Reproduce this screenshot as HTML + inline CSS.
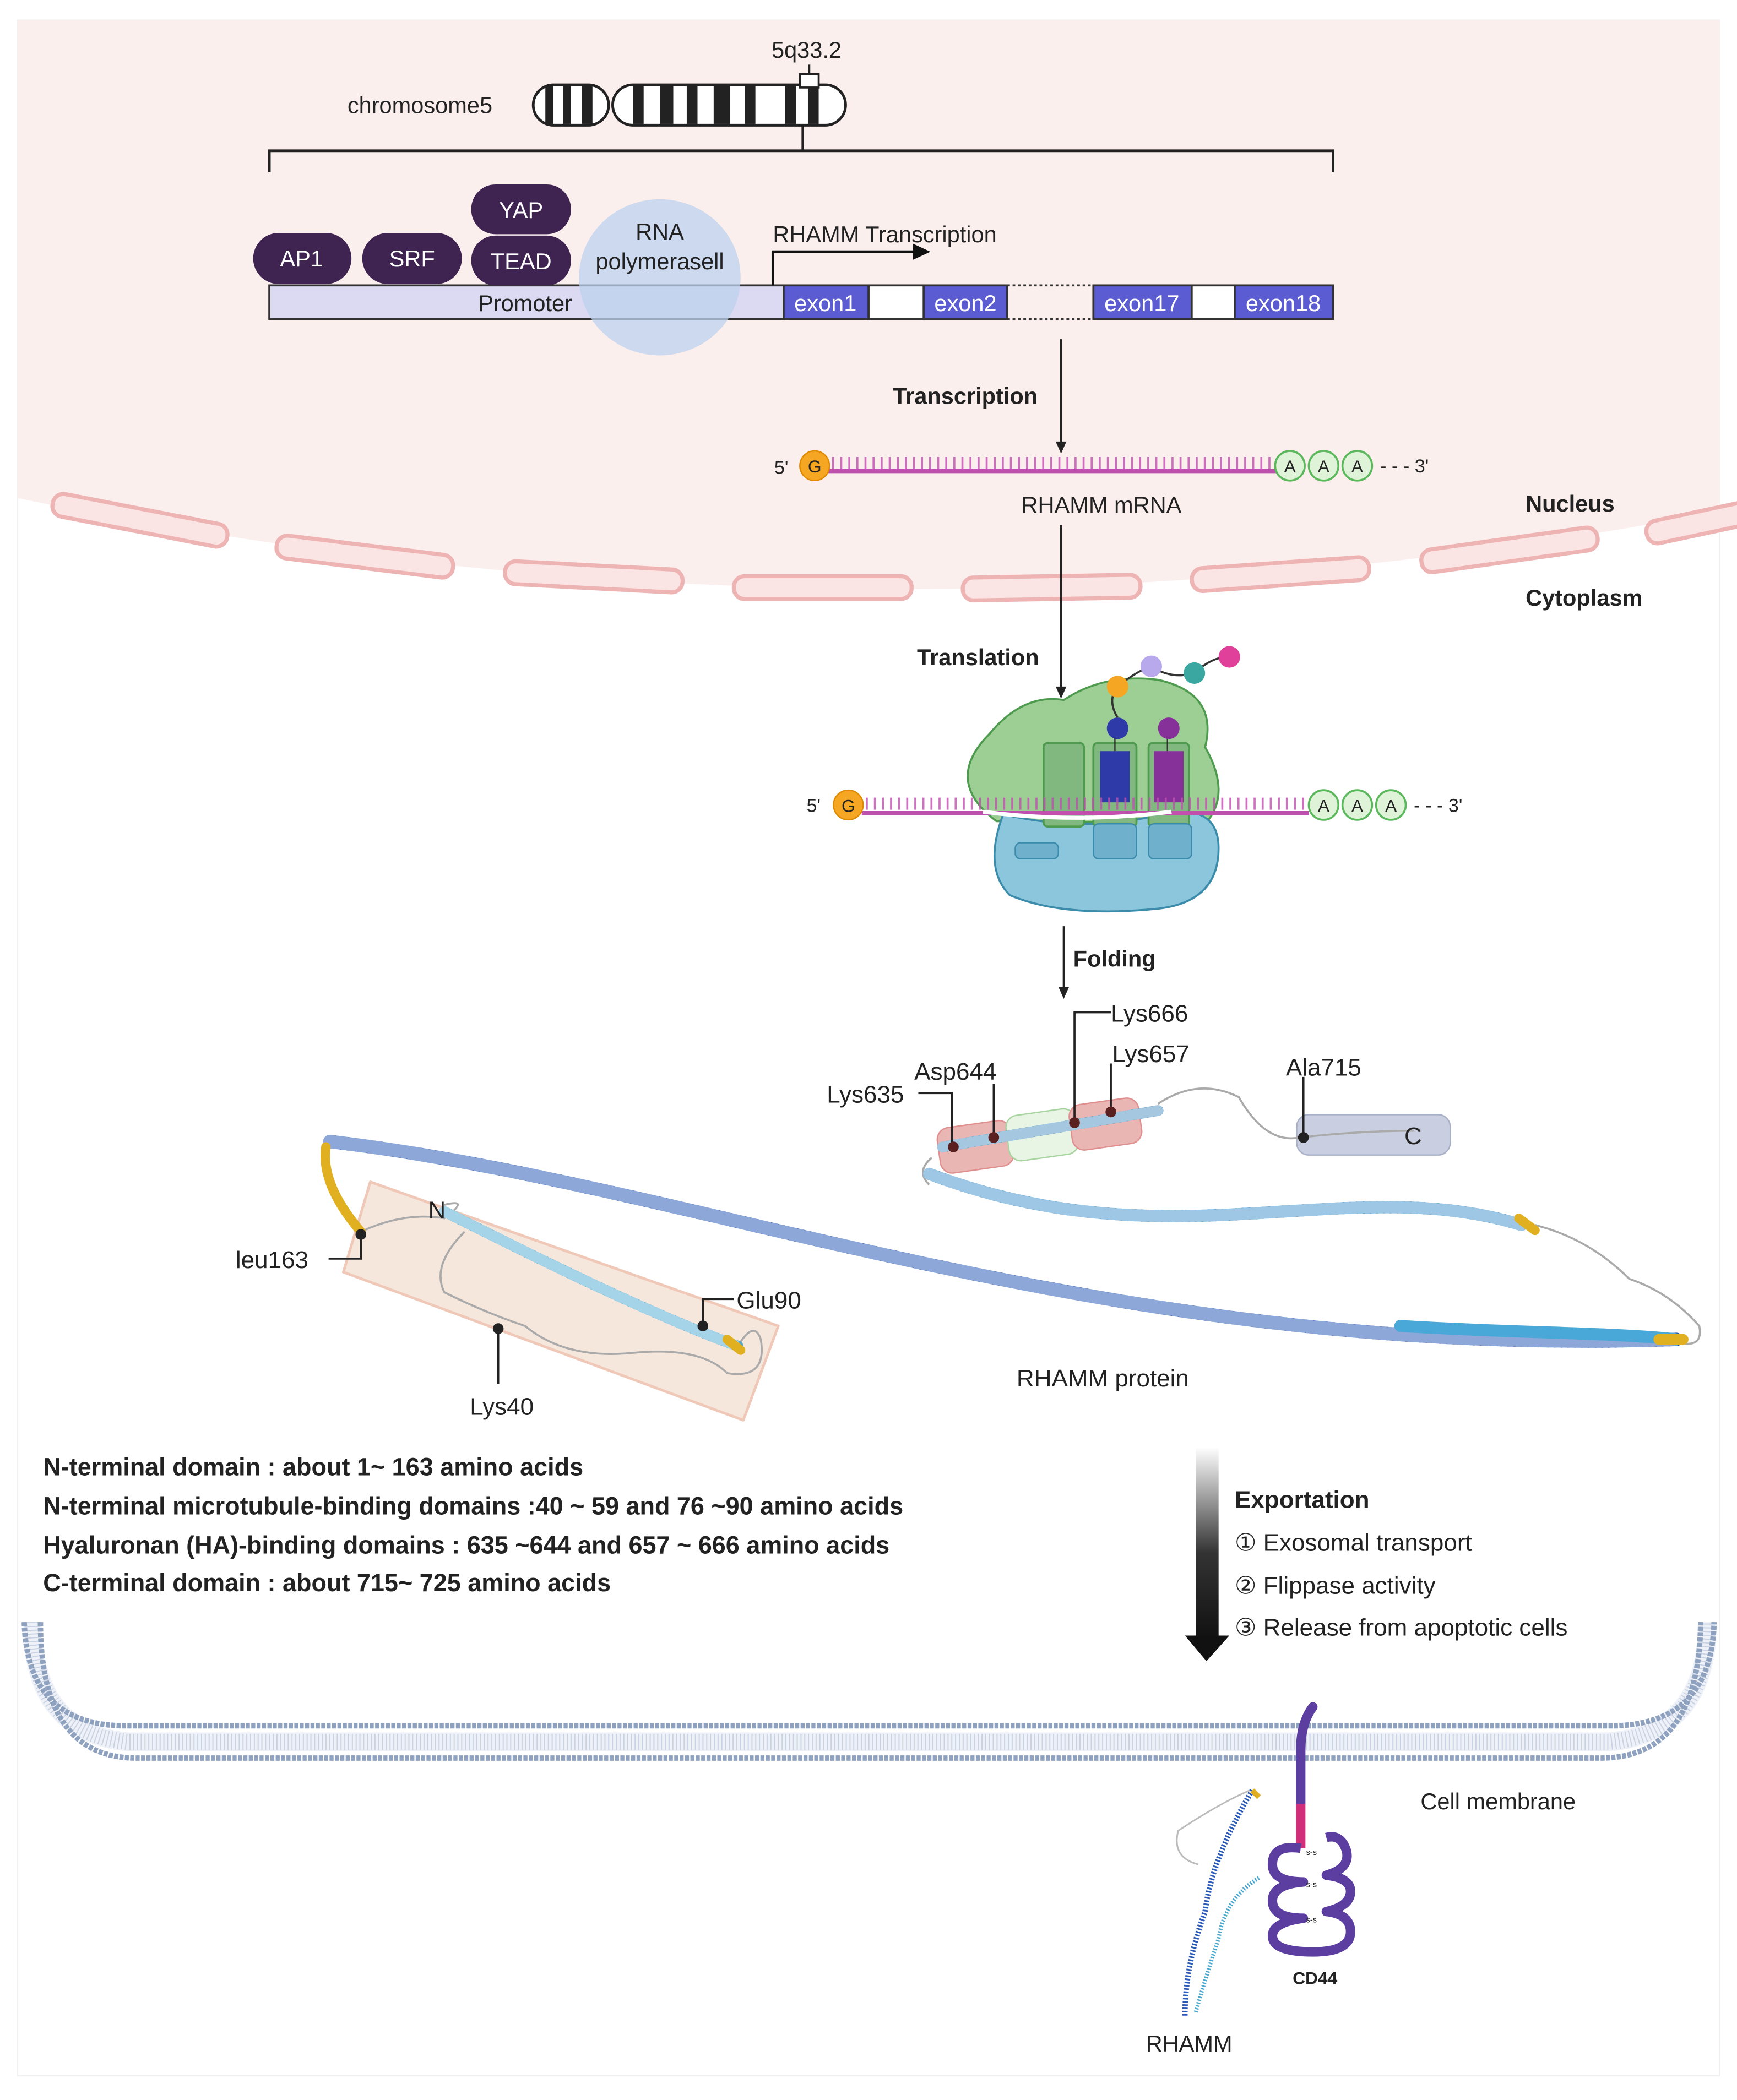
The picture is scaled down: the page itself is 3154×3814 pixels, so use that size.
<!DOCTYPE html>
<html><head><meta charset="utf-8"><style>
html,body{margin:0;padding:0;background:#fff;}
svg{display:block;}
text{font-family:"Liberation Sans",sans-serif;fill:#222;}
.b{font-weight:bold;}
</style></head><body>
<svg width="3154" height="3814" viewBox="0 0 1290 1560" xmlns="http://www.w3.org/2000/svg">
<defs>
<linearGradient id="eg" x1="0" y1="0" x2="0" y2="1"><stop offset="0" stop-color="#fff"/><stop offset="0.55" stop-color="#333"/><stop offset="1" stop-color="#111"/></linearGradient>
</defs>
<rect x="13" y="15" width="1264" height="1527" fill="#fff" stroke="#f0f0f0"/>
<path d="M13 15 H1277 V380 Q645 500 13 370 Z" fill="#fbefee"/>
<g fill="#fbe4e4" stroke="#eeb4b4" stroke-width="3">
<rect x="38" y="378" width="132" height="17" rx="8" transform="rotate(11 104 386)"/>
<rect x="205" y="405" width="132" height="17" rx="8" transform="rotate(7 271 413)"/>
<rect x="375" y="420" width="132" height="17" rx="8" transform="rotate(3 441 428)"/>
<rect x="545" y="428" width="132" height="17" rx="8"/>
<rect x="715" y="428" width="132" height="17" rx="8" transform="rotate(-1 781 436)"/>
<rect x="885" y="418" width="132" height="17" rx="8" transform="rotate(-4 951 426)"/>
<rect x="1055" y="400" width="132" height="17" rx="8" transform="rotate(-8 1121 408)"/>
<rect x="1222" y="380" width="80" height="17" rx="8" transform="rotate(-12 1262 388)"/>
</g>
<text x="258" y="84" font-size="17">chromosome5</text>
<text x="573" y="43" font-size="17">5q33.2</text>
<g stroke="#222" stroke-width="2">
<rect x="396" y="63" width="56" height="30" rx="15" fill="#fff"/>
<rect x="455" y="63" width="173" height="30" rx="15" fill="#fff"/>
</g>
<g fill="#222">
<rect x="405" y="64" width="6" height="28"/><rect x="418" y="64" width="6" height="28"/><rect x="432" y="64" width="8" height="28"/>
<rect x="470" y="64" width="8" height="28"/><rect x="490" y="64" width="10" height="28"/><rect x="510" y="64" width="8" height="28"/><rect x="530" y="64" width="12" height="28"/><rect x="553" y="64" width="8" height="28"/><rect x="583" y="64" width="8" height="28"/><rect x="600" y="64" width="8" height="28"/>
</g>
<rect x="594" y="55" width="14" height="10" fill="#fff" stroke="#222" stroke-width="1.5"/>
<line x1="601" y1="48" x2="601" y2="55" stroke="#222" stroke-width="1.5"/>
<line x1="596" y1="93" x2="596" y2="112" stroke="#222" stroke-width="1.5"/>
<path d="M200 128 V112 H990 V128" fill="none" stroke="#222" stroke-width="2"/>
<rect x="200" y="212" width="382" height="25" fill="#dcdaf2" stroke="#333" stroke-width="1.5"/>
<ellipse cx="490" cy="206" rx="60" ry="58" fill="#bcd2ee" opacity="0.75"/>
<text x="390" y="231" font-size="17" text-anchor="middle">Promoter</text>
<text x="490" y="178" font-size="17" text-anchor="middle">RNA</text>
<text x="490" y="200" font-size="17" text-anchor="middle">polymerasell</text>
<g fill="#fff" stroke="#333" stroke-width="1.5">
<rect x="645" y="212" width="41" height="25"/><rect x="885" y="212" width="32" height="25"/>
</g>
<path d="M748 212 H812 M748 237 H812" stroke="#333" stroke-width="1.5" stroke-dasharray="2 2"/>
<g fill="#5c5cd2" stroke="#333" stroke-width="1.5">
<rect x="582" y="212" width="63" height="25"/><rect x="686" y="212" width="62" height="25"/><rect x="812" y="212" width="73" height="25"/><rect x="917" y="212" width="73" height="25"/>
</g>
<g font-size="17" text-anchor="middle">
<text x="613" y="231" style="fill:#fff">exon1</text><text x="717" y="231" style="fill:#fff">exon2</text><text x="848" y="231" style="fill:#fff">exon17</text><text x="953" y="231" style="fill:#fff">exon18</text>
</g>
<g fill="#3f2350">
<rect x="188" y="173" width="73" height="38" rx="19"/><rect x="269" y="173" width="74" height="38" rx="19"/>
<rect x="350" y="137" width="74" height="37" rx="18"/><rect x="350" y="175" width="74" height="37" rx="18"/>
</g>
<g font-size="17" text-anchor="middle">
<text x="224" y="198" style="fill:#fff">AP1</text><text x="306" y="198" style="fill:#fff">SRF</text>
<text x="387" y="162" style="fill:#fff">YAP</text><text x="387" y="200" style="fill:#fff">TEAD</text>
</g>
<path d="M574 212 V187 H680" fill="none" stroke="#111" stroke-width="2"/>
<path d="M678 181 L691 187 L678 193 Z" fill="#111"/>
<text x="574" y="180" font-size="17">RHAMM Transcription</text>
<line x1="788" y1="252" x2="788" y2="330" stroke="#222" stroke-width="1.5"/>
<path d="M784 328 L788 337 L792 328 Z" fill="#222"/>
<text x="663" y="300" font-size="17" class="b">Transcription</text>
<text x="575" y="352" font-size="14">5'</text>
<line x1="615" y1="350" x2="948" y2="350" stroke="#c050b0" stroke-width="3"/>
<line x1="618" y1="344" x2="946" y2="344" stroke="#c050b0" stroke-width="9" stroke-dasharray="1.5 4.5" opacity="0.8"/>
<circle cx="605" cy="346" r="11" fill="#f5a623" stroke="#e08a00"/>
<text x="605" y="351" font-size="13" text-anchor="middle">G</text>
<g fill="#dff3d8" stroke="#5cb85c" stroke-width="1.5"><circle cx="958" cy="346" r="11"/><circle cx="983" cy="346" r="11"/><circle cx="1008" cy="346" r="11"/></g>
<g font-size="13" text-anchor="middle"><text x="958" y="351">A</text><text x="983" y="351">A</text><text x="1008" y="351">A</text></g>
<text x="1025" y="351" font-size="14">- - - 3'</text>
<text x="818" y="381" font-size="17" text-anchor="middle">RHAMM mRNA</text>
<text x="1133" y="380" font-size="17" class="b">Nucleus</text>
<text x="1133" y="450" font-size="17" class="b">Cytoplasm</text>
<line x1="788" y1="390" x2="788" y2="512" stroke="#222" stroke-width="1.5"/>
<path d="M784 510 L788 519 L792 510 Z" fill="#222"/>
<text x="681" y="494" font-size="17" class="b">Translation</text>
<path d="M740 610 Q700 580 735 545 Q760 515 790 520 Q820 500 860 505 Q905 515 895 555 Q915 590 895 612 Z" fill="#9dcf94" stroke="#4e9a4e" stroke-width="1.5"/>
<path d="M745 605 Q810 620 870 603 Q905 600 905 630 Q905 670 860 675 Q790 682 750 665 Q730 645 745 605 Z" fill="#8cc6dc" stroke="#3b8bab" stroke-width="1.5"/>
<rect x="775" y="552" width="30" height="62" rx="3" fill="#80b880" stroke="#4e9a4e" stroke-width="1.5"/>
<rect x="812" y="552" width="32" height="62" rx="3" fill="#80b880" stroke="#4e9a4e" stroke-width="1.5"/>
<rect x="853" y="552" width="30" height="62" rx="3" fill="#80b880" stroke="#4e9a4e" stroke-width="1.5"/>
<rect x="754" y="626" width="32" height="12" rx="4" fill="#6fb0cc" stroke="#3b8bab"/>
<rect x="812" y="612" width="32" height="26" rx="4" fill="#6fb0cc" stroke="#3b8bab"/>
<rect x="853" y="612" width="32" height="26" rx="4" fill="#6fb0cc" stroke="#3b8bab"/>
<rect x="817" y="558" width="22" height="38" fill="#2e3aa8"/>
<rect x="857" y="558" width="22" height="38" fill="#86309a"/>
<line x1="828" y1="548" x2="828" y2="558" stroke="#333"/><line x1="867" y1="548" x2="867" y2="558" stroke="#333"/>
<circle cx="830" cy="541" r="8" fill="#2e3aa8"/><circle cx="868" cy="541" r="8" fill="#86309a"/>
<path d="M830 533 Q822 520 830 510 M830 510 Q845 498 855 495 M855 495 Q870 505 887 500 M887 500 Q900 488 912 488" fill="none" stroke="#333" stroke-width="1.5"/>
<circle cx="830" cy="510" r="8" fill="#f5a623"/><circle cx="855" cy="495" r="8" fill="#b8a8ec"/><circle cx="887" cy="500" r="8" fill="#3aa8a0"/><circle cx="913" cy="488" r="8" fill="#e0409a"/>
<path d="M640 604 H972" stroke="#c050b0" stroke-width="3"/>
<line x1="643" y1="597" x2="970" y2="597" stroke="#c050b0" stroke-width="9" stroke-dasharray="1.5 4.5" opacity="0.8"/>
<path d="M730 603 Q800 612 870 603" stroke="#fff" stroke-width="3" fill="none"/>
<text x="599" y="603" font-size="14">5'</text>
<circle cx="630" cy="598" r="11" fill="#f5a623" stroke="#e08a00"/>
<text x="630" y="603" font-size="13" text-anchor="middle">G</text>
<g fill="#dff3d8" stroke="#5cb85c" stroke-width="1.5"><circle cx="983" cy="598" r="11"/><circle cx="1008" cy="598" r="11"/><circle cx="1033" cy="598" r="11"/></g>
<g font-size="13" text-anchor="middle"><text x="983" y="603">A</text><text x="1008" y="603">A</text><text x="1033" y="603">A</text></g>
<text x="1050" y="603" font-size="14">- - - 3'</text>
<line x1="790" y1="688" x2="790" y2="735" stroke="#222" stroke-width="1.5"/>
<path d="M786 733 L790 742 L794 733 Z" fill="#222"/>
<text x="797" y="718" font-size="17" class="b">Folding</text>
<path d="M275 878 L578 985 L552 1055 L255 945 Z" fill="#f6e7dd" stroke="#efc8b8" stroke-width="2" stroke-linejoin="round"/>
<rect x="697" y="835" width="55" height="34" rx="9" fill="#eab6b4" stroke="#e08f8f" transform="rotate(-8 724 852)"/>
<rect x="748" y="826" width="52" height="34" rx="9" fill="#e8f4e4" stroke="#a8d4a0" transform="rotate(-8 774 843)"/>
<rect x="795" y="818" width="52" height="34" rx="9" fill="#eab6b4" stroke="#e08f8f" transform="rotate(-8 821 835)"/>
<rect x="963" y="828" width="114" height="30" rx="9" fill="#c9cfe0" stroke="#a8b0c8"/>
<g fill="none" stroke="#aaa" stroke-width="1.5">
<path d="M268 915 Q300 900 330 905 Q350 890 330 895"/>
<path d="M345 915 Q320 940 330 960 Q360 975 390 985 Q420 1010 470 1005 Q520 1000 540 1020 Q570 1025 565 995 Q560 980 548 1000"/>
<path d="M860 820 Q890 800 920 815 Q940 850 965 845 Q1010 840 1050 840"/>
<path d="M1140 910 Q1180 920 1210 950 Q1240 960 1262 985 Q1265 1000 1250 998"/>
<path d="M692 860 Q680 870 690 880"/>
</g>
<g fill="none" stroke-linecap="round">
<path d="M245 848 C 520 880, 820 1010, 1245 995" stroke="#1a4fb0" stroke-width="10"/>
<path d="M245 848 C 520 880, 820 1010, 1245 995" stroke="#fff" stroke-width="10" stroke-dasharray="2 3" opacity="0.5"/>
<path d="M1130 910 C 1000 870, 870 940, 690 872" stroke="#3a8ec8" stroke-width="9"/>
<path d="M1130 910 C 1000 870, 870 940, 690 872" stroke="#fff" stroke-width="9" stroke-dasharray="2 3" opacity="0.5"/>
<path d="M1040 985 C 1120 990, 1200 990, 1245 995" stroke="#4aa8d8" stroke-width="9"/>
<path d="M330 900 C 400 935, 480 975, 548 1000" stroke="#4aa8d0" stroke-width="8"/>
<path d="M330 900 C 400 935, 480 975, 548 1000" stroke="#fff" stroke-width="8" stroke-dasharray="2 3" opacity="0.5"/>
<path d="M700 852 L860 825" stroke="#4a90c0" stroke-width="8"/>
<path d="M700 852 L860 825" stroke="#fff" stroke-width="8" stroke-dasharray="2 3" opacity="0.5"/>
<path d="M242 852 Q238 880 268 915" stroke="#e0b020" stroke-width="7"/>
<path d="M1232 995 L1250 995" stroke="#e0b020" stroke-width="8"/>
<path d="M1128 905 L1140 914" stroke="#e0b020" stroke-width="7"/>
<path d="M540 995 L550 1003" stroke="#e0b020" stroke-width="7"/>
</g>
<g stroke="#222" stroke-width="1.5" fill="none">
<path d="M244 935 H268 V917"/>
<path d="M370 1028 V987"/>
<path d="M545 965 H522 V985"/>
<path d="M682 812 H707 V852"/>
<path d="M738 805 V845"/>
<path d="M825 752 H798 V834"/>
<path d="M825 790 V826"/>
<path d="M968 800 V845"/>
</g>
<g fill="#222"><circle cx="268" cy="917" r="4"/><circle cx="370" cy="987" r="4"/><circle cx="522" cy="985" r="4"/><circle cx="968" cy="845" r="4"/></g>
<g fill="#5a2020"><circle cx="708" cy="852" r="4"/><circle cx="738" cy="845" r="4"/><circle cx="798" cy="834" r="4"/><circle cx="825" cy="826" r="4"/></g>
<g font-size="18">
<text x="175" y="942">leu163</text><text x="349" y="1051">Lys40</text><text x="547" y="972">Glu90</text><text x="318" y="905">N</text>
<text x="614" y="819">Lys635</text><text x="679" y="802">Asp644</text><text x="825" y="759">Lys666</text><text x="826" y="789">Lys657</text><text x="955" y="799">Ala715</text><text x="1043" y="850">C</text>
<text x="755" y="1030">RHAMM protein</text>
</g>
<g font-size="18.4">
<text x="32" y="1096" class="b">N-terminal domain : about 1~ 163 amino acids</text>
<text x="32" y="1125" class="b">N-terminal microtubule-binding domains :40 ~ 59 and 76 ~90 amino acids</text>
<text x="32" y="1154" class="b">Hyaluronan (HA)-binding domains : 635 ~644 and  657 ~ 666 amino acids</text>
<text x="32" y="1182" class="b">C-terminal domain :  about 715~ 725 amino acids</text>
</g>
<rect x="888" y="1075" width="17" height="143" fill="url(#eg)"/>
<path d="M880 1215 H913 L896 1234 Z" fill="#111"/>
<text x="917" y="1120" font-size="18" class="b">Exportation</text>
<g font-size="18"><text x="917" y="1152">① Exosomal transport</text><text x="917" y="1184">② Flippase activity</text><text x="917" y="1215">③  Release from apoptotic cells</text></g>
<g fill="none">
<path d="M24 1205 Q24 1287 95 1294 H1195 Q1268 1287 1268 1205" stroke="#eef1f7" stroke-width="14"/>
<path d="M24 1205 Q24 1287 95 1294 H1195 Q1268 1287 1268 1205" stroke="#c8d2e2" stroke-width="12" stroke-dasharray="0.8 2"/>
<path d="M18 1205 Q20 1280 90 1282 H1200 Q1271 1280 1273 1205" stroke="#8ea2c0" stroke-width="4" stroke-dasharray="3 1"/>
<path d="M30 1205 Q30 1305 100 1306 H1190 Q1262 1305 1263 1205" stroke="#8ea2c0" stroke-width="4" stroke-dasharray="3 1"/>
</g>
<path d="M975 1268 Q966 1280 966 1300 V1340" stroke="#5b3ea0" stroke-width="7" fill="none" stroke-linecap="round"/>
<path d="M966 1340 V1373" stroke="#d0307a" stroke-width="7"/>
<path d="M966 1373 Q945 1370 945 1385 Q945 1398 968 1398 Q945 1400 945 1412 Q945 1425 968 1425 Q945 1428 945 1438 Q945 1450 975 1450 Q1003 1450 1003 1435 Q1003 1422 985 1420 Q1003 1416 1003 1405 Q1003 1395 985 1393 Q1003 1388 1000 1375 Q996 1362 985 1365" fill="none" stroke="#5b3ea0" stroke-width="7" stroke-linejoin="round"/>
<g font-size="6"><text x="970" y="1378">s-s</text><text x="970" y="1402">s-s</text><text x="970" y="1428">s-s</text></g>
<text x="960" y="1474" font-size="13" class="b">CD44</text>
<g fill="none">
<path d="M930 1330 Q900 1380 895 1420 Q880 1460 880 1498" stroke="#2a5ab8" stroke-width="4" stroke-dasharray="1.2 1.2"/>
<path d="M928 1330 Q905 1340 875 1360 Q870 1380 890 1385" stroke="#bbb" stroke-width="1.2"/>
<path d="M935 1395 Q910 1410 905 1440 Q895 1470 888 1495" stroke="#4aa8d0" stroke-width="3" stroke-dasharray="1 1.2"/>
<path d="M930 1330 L935 1335" stroke="#e0b020" stroke-width="4"/>
</g>
<text x="851" y="1524" font-size="17">RHAMM</text>
<text x="1055" y="1344" font-size="17">Cell membrane</text>
</svg>
</body></html>
